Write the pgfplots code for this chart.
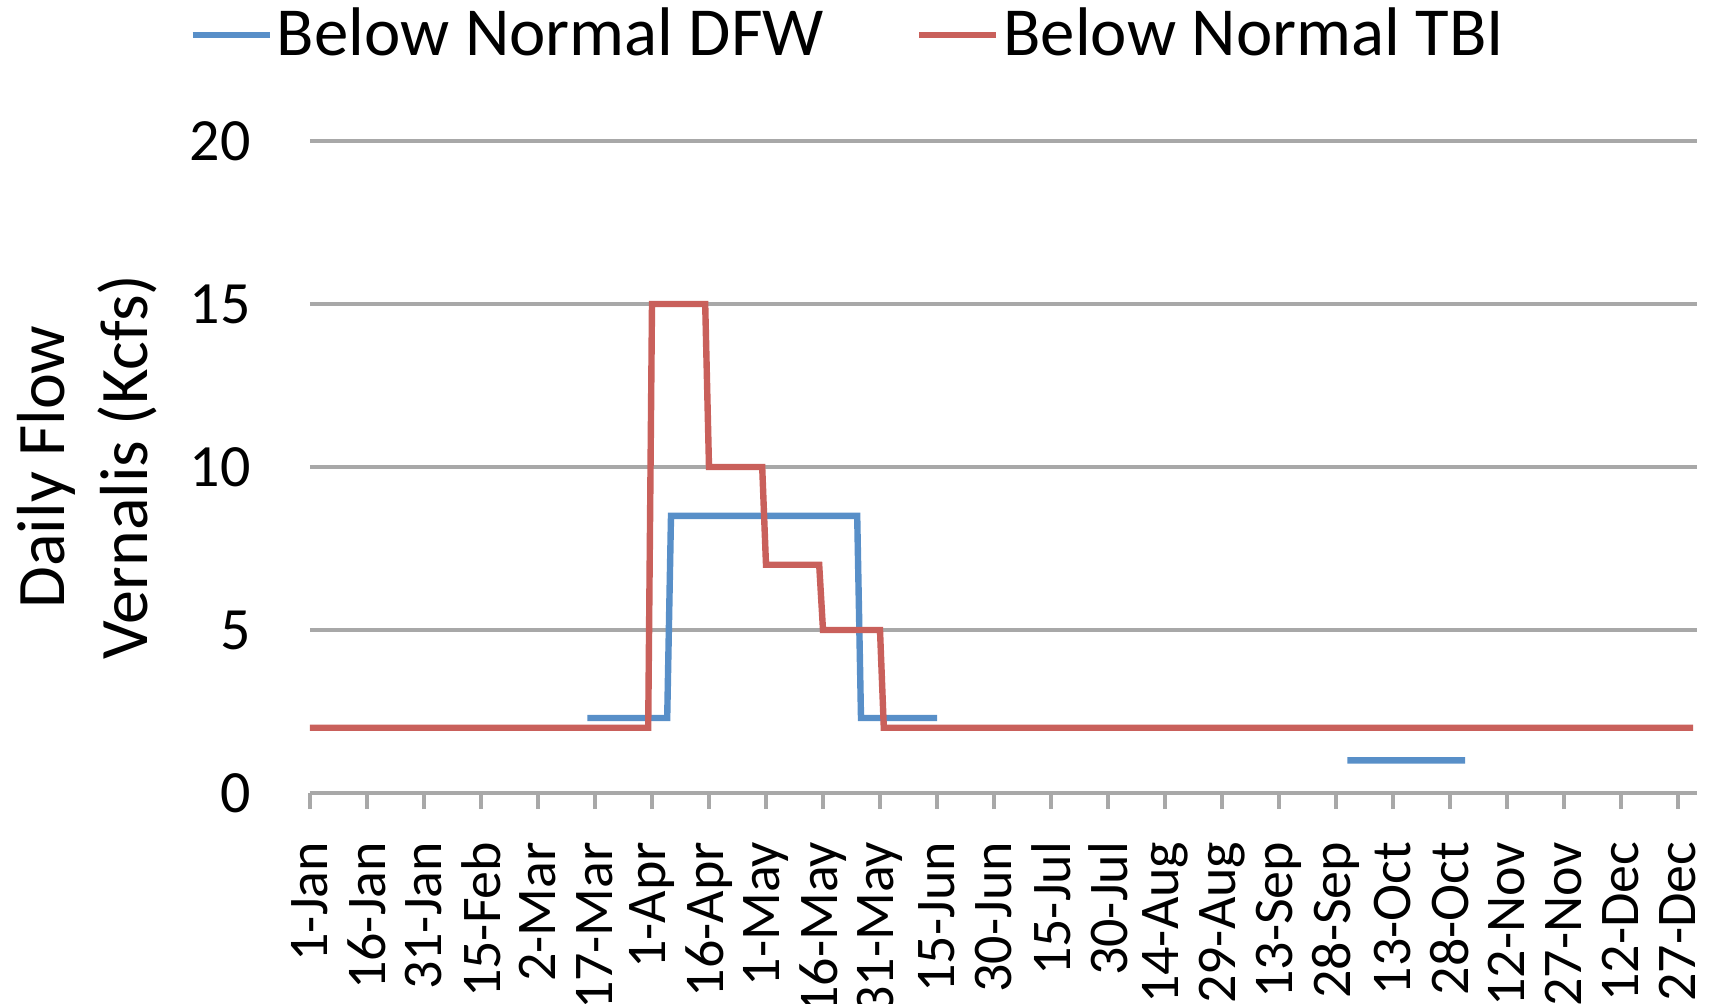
\documentclass[border=0pt]{standalone}
\usepackage{fontspec}
\setmainfont{Carlito}
\usepackage{pgfplots}
\pgfplotsset{compat=1.18}
\definecolor{dfwblue}{RGB}{88,143,200}
\definecolor{tbired}{RGB}{201,96,91}
\definecolor{gridgray}{RGB}{168,168,168}
\begin{document}
\begin{tikzpicture}
\useasboundingbox (-77.5bp,-52.75bp) rectangle (351bp,198.25bp);
\begin{axis}[
  at={(0,0)}, anchor=south west,
  scale only axis, width=346.75bp, height=163bp,
  xmin=1, xmax=366, ymin=0, ymax=20,
  axis x line*=bottom, axis y line*=left,
  y axis line style={draw=none},
  x axis line style={draw=gridgray, line width=0.8bp},
  xtick={1,16,...,361},
  xticklabels={1-Jan,16-Jan,31-Jan,15-Feb,2-Mar,17-Mar,1-Apr,16-Apr,1-May,16-May,31-May,15-Jun,30-Jun,15-Jul,30-Jul,14-Aug,29-Aug,13-Sep,28-Sep,13-Oct,28-Oct,12-Nov,27-Nov,12-Dec,27-Dec},
  ytick={0,5,10,15,20},
  ymajorgrids, grid style={draw=gridgray, line width=0.8bp},
  tick align=outside,
  xtick style={draw=gridgray, line width=0.8bp},
  ytick style={draw=none},
  major tick length=4bp,
  /pgf/number format/assume math mode=true,
  xticklabel style={font=\fontsize{14bp}{14bp}\selectfont, rotate=90, anchor=east, inner sep=0pt},
  xticklabel shift=8bp,
  yticklabel style={font=\fontsize{15bp}{15bp}\selectfont, inner sep=0pt},
  yticklabel shift=10.6bp,
  ylabel={Daily Flow\\Vernalis (Kcfs)},
  ylabel style={align=center, font=\fontsize{17bp}{20.75bp}\selectfont,
    at={(rel axis cs:-0.1604,0.5)}, anchor=center},
  legend style={at={(rel axis cs:-0.0875,1.1626)}, anchor=west, draw=none, fill=none,
    inner sep=0pt, font=\fontsize{17.2bp}{17.2bp}\selectfont,
    nodes={inner xsep=1bp, inner ysep=2pt},
    /tikz/every even column/.append style={column sep=22bp}},
  legend columns=2,
  legend image code/.code={\draw[#1] (0bp,0bp) -- (19.25bp,0bp);},
  unbounded coords=jump,
  every axis plot/.append style={line width=1.6bp, mark=none},
]
% Below Normal DFW: spring pulse plus an October block
\addplot[dfwblue] coordinates {
  (74,2.3) (95,2.3) (96,8.5) (145,8.5) (146,2.3) (166,2.3)
  (220,nan)
  (274,1.0) (305,1.0)
};
\addlegendentry{Below Normal DFW}
% Below Normal TBI: stepped April--May schedule
\addplot[tbired] coordinates {
  (1,2) (90,2) (91,15) (105,15) (106,10) (120,10) (121,7) (135,7)
  (136,5) (151,5) (152,2) (365,2)
};
\addlegendentry{Below Normal TBI}
\end{axis}
\end{tikzpicture}
\end{document}
